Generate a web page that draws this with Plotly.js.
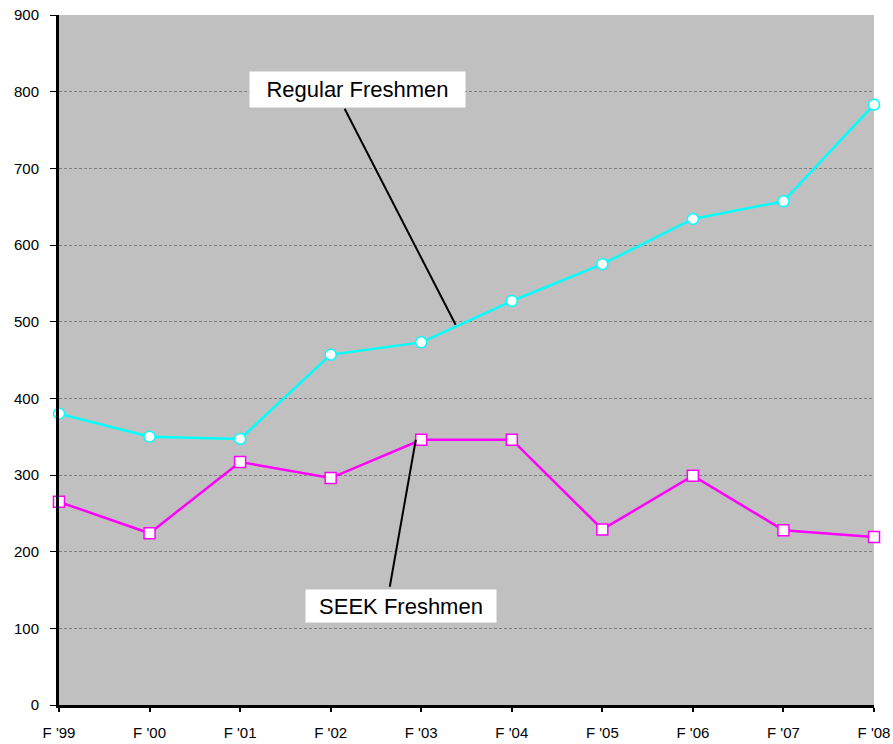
<!DOCTYPE html>
<html>
<head>
<meta charset="utf-8">
<script src="https://cdn.plot.ly/plotly-3.0.1.min.js"></script>
<style>html,body{margin:0;padding:0;background:#fff;}#chart{width:893px;height:744px;}</style>
</head>
<body>
<div id="chart"></div>
<script>
const categories = ["F '99", "F '00", "F '01", "F '02", "F '03", "F '04", "F '05", "F '06", "F '07", "F '08"];
const regularFreshmen = [380, 350, 347, 457, 473, 527, 575, 634, 657, 783];
const seekFreshmen = [265, 224, 317, 296, 346, 346, 229, 299, 228, 219];
const yTicks = [0, 100, 200, 300, 400, 500, 600, 700, 800, 900];

const traces = [
  {
    x: categories, y: regularFreshmen, type: 'scatter', mode: 'lines+markers',
    name: 'Regular Freshmen', cliponaxis: false,
    line: {color: '#00ffff', width: 2.5},
    marker: {symbol: 'circle', size: 11, color: '#ffffff', line: {color: '#00ffff', width: 1.5}}
  },
  {
    x: categories, y: seekFreshmen, type: 'scatter', mode: 'lines+markers',
    name: 'SEEK Freshmen', cliponaxis: false,
    line: {color: '#ff00ff', width: 2.5},
    marker: {symbol: 'square', size: 11, color: '#ffffff', line: {color: '#ff00ff', width: 1.5}}
  }
];

const tickFont = {family: 'Liberation Sans, Arial, sans-serif', size: 15, color: '#000'};
const labelFont = {family: 'Liberation Sans, Arial, sans-serif', size: 22, color: '#000'};

const layout = {
  width: 893, height: 744,
  margin: {l: 59, r: 19, t: 15, b: 39},
  paper_bgcolor: '#ffffff', plot_bgcolor: '#c0c0c0',
  showlegend: false,
  xaxis: {
    type: 'category', range: [0, 9],
    showline: true, linecolor: '#000', linewidth: 3,
    ticks: 'outside', ticklen: 4, tickwidth: 2, tickcolor: '#000',
    showgrid: false, zeroline: false,
    tickfont: tickFont, ticklabelstandoff: 8
  },
  yaxis: {
    range: [0, 900], tickvals: yTicks,
    showline: true, linecolor: '#000', linewidth: 3,
    ticks: 'outside', ticklen: 6, tickwidth: 1, tickcolor: '#000',
    showgrid: true, gridcolor: '#808080', gridwidth: 1, griddash: '3px,2px',
    zeroline: false,
    tickfont: tickFont, ticklabelstandoff: 8
  },
  shapes: [
    {type: 'line', xref: 'x', yref: 'y', xsizemode: 'pixel', ysizemode: 'pixel',
     xanchor: 4.38, yanchor: 496, x0: 0, y0: 0, x1: -111, y1: 216,
     line: {color: '#000', width: 2}},
    {type: 'line', xref: 'x', yref: 'y', xsizemode: 'pixel', ysizemode: 'pixel',
     xanchor: 3.94, yanchor: 346, x0: 0, y0: 0, x1: -26, y1: -147,
     line: {color: '#000', width: 2}}
  ],
  annotations: [
    {x: 3.296, y: 803, xref: 'x', yref: 'y', text: 'Regular Freshmen', showarrow: false,
     font: labelFont, bgcolor: '#ffffff', width: 207, height: 27, borderpad: 4},
    {x: 3.777, y: 129, xref: 'x', yref: 'y', text: 'SEEK Freshmen', showarrow: false,
     font: labelFont, bgcolor: '#ffffff', width: 182, height: 24, borderpad: 4}
  ]
};

Plotly.newPlot('chart', traces, layout, {displayModeBar: false, staticPlot: true});
</script>
</body>
</html>
